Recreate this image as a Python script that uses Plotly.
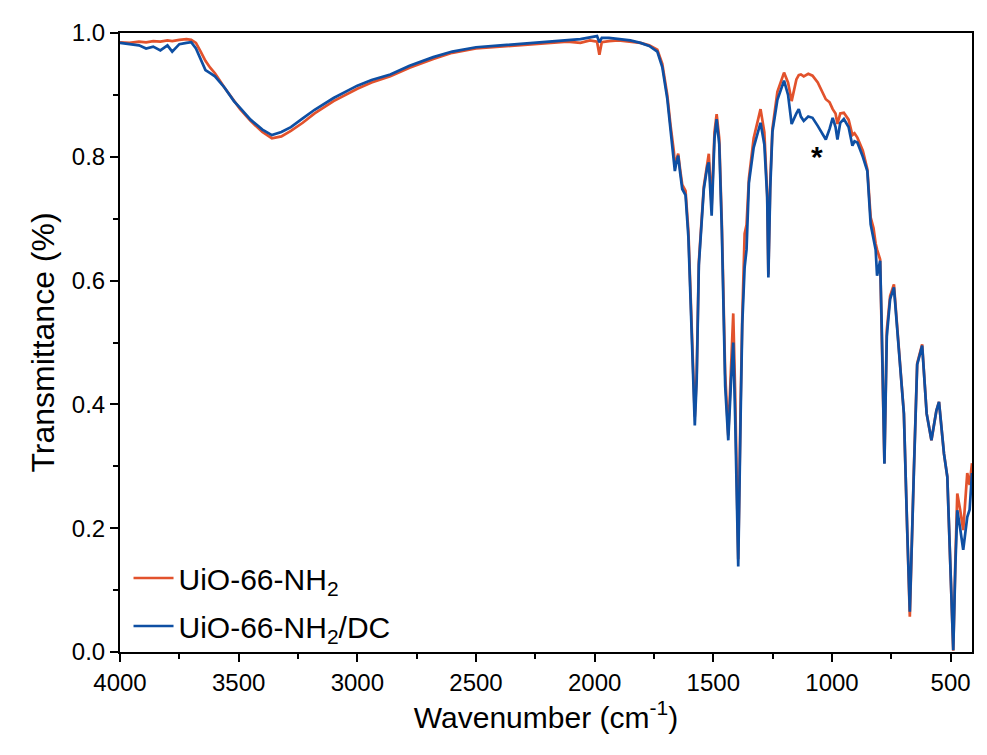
import plotly.graph_objects as go

# Wavenumber (cm^-1) sample points
wavenumber = [4000, 3960, 3920, 3890, 3860, 3830, 3800, 3780, 3750, 3720, 3700, 3680, 3660, 3640, 3620, 3600,
              3560, 3520, 3494, 3450, 3400, 3360, 3320, 3280, 3230, 3180, 3100, 3000, 2940, 2861, 2780, 2680,
              2600, 2500, 2397, 2300, 2200, 2115, 2060, 2020, 1990, 1980, 1970, 1940, 1900, 1850, 1807, 1770,
              1736, 1715, 1694, 1680, 1666, 1662, 1655, 1648, 1640, 1631, 1617, 1605, 1596, 1585, 1578, 1570,
              1561, 1540, 1525, 1519, 1507, 1495, 1486, 1475, 1464, 1450, 1437, 1425, 1416, 1408, 1395, 1385,
              1378, 1368, 1360, 1350, 1330, 1301, 1285, 1273, 1268, 1260, 1251, 1230, 1202, 1185, 1170, 1150,
              1140, 1131, 1119, 1100, 1082, 1060, 1034, 1026, 1010, 997, 985, 977, 965, 950, 930, 914,
              905, 893, 870, 851, 837, 825, 816, 810, 797, 790, 779, 769, 755, 739, 718, 697,
              683, 672, 655, 641, 620, 601, 581, 560, 549, 528, 514, 500, 489, 480, 472, 460,
              447, 430, 420, 410]

uio66_nh2 = [0.985, 0.984, 0.986, 0.985, 0.987, 0.986, 0.988, 0.987, 0.989, 0.990, 0.989, 0.984, 0.970, 0.955, 0.944, 0.935,
             0.912, 0.890, 0.877, 0.858, 0.840, 0.830, 0.833, 0.842, 0.855, 0.870, 0.890, 0.910, 0.920, 0.930, 0.944, 0.958,
             0.968, 0.975, 0.978, 0.980, 0.983, 0.986, 0.984, 0.988, 0.986, 0.965, 0.985, 0.987, 0.988, 0.986, 0.984, 0.980,
             0.973, 0.950, 0.900, 0.850, 0.808, 0.785, 0.795, 0.805, 0.780, 0.755, 0.745, 0.680, 0.580, 0.440, 0.380, 0.450,
             0.630, 0.752, 0.795, 0.805, 0.720, 0.840, 0.869, 0.830, 0.690, 0.450, 0.350, 0.470, 0.547, 0.420, 0.150, 0.400,
             0.540, 0.676, 0.690, 0.765, 0.830, 0.877, 0.840, 0.740, 0.610, 0.760, 0.845, 0.905, 0.936, 0.920, 0.890, 0.925,
             0.932, 0.933, 0.930, 0.934, 0.931, 0.920, 0.898, 0.893, 0.888, 0.877, 0.870, 0.853, 0.870, 0.871, 0.860, 0.835,
             0.838, 0.831, 0.810, 0.780, 0.702, 0.685, 0.660, 0.650, 0.634, 0.520, 0.305, 0.520, 0.575, 0.594, 0.492, 0.385,
             0.197, 0.057, 0.294, 0.466, 0.497, 0.385, 0.342, 0.390, 0.404, 0.320, 0.283, 0.116, 0.002, 0.150, 0.256, 0.230,
             0.197, 0.289, 0.270, 0.305]

uio66_nh2_dc = [0.984, 0.982, 0.980, 0.975, 0.978, 0.972, 0.980, 0.970, 0.982, 0.984, 0.985, 0.975, 0.958, 0.940, 0.935, 0.930,
                0.912, 0.890, 0.879, 0.860, 0.844, 0.835, 0.840, 0.848, 0.862, 0.876, 0.895, 0.915, 0.924, 0.933, 0.947, 0.961,
                0.970, 0.977, 0.980, 0.983, 0.986, 0.988, 0.990, 0.993, 0.995, 0.985, 0.992, 0.992, 0.990, 0.988, 0.984, 0.979,
                0.970, 0.945, 0.894, 0.845, 0.802, 0.777, 0.792, 0.802, 0.775, 0.748, 0.738, 0.670, 0.570, 0.420, 0.366, 0.440,
                0.625, 0.748, 0.785, 0.791, 0.705, 0.830, 0.861, 0.820, 0.680, 0.430, 0.342, 0.440, 0.500, 0.380, 0.138, 0.380,
                0.530, 0.622, 0.650, 0.758, 0.815, 0.855, 0.820, 0.735, 0.605, 0.750, 0.840, 0.892, 0.923, 0.900, 0.853, 0.870,
                0.877, 0.865, 0.858, 0.865, 0.863, 0.850, 0.832, 0.828, 0.845, 0.863, 0.848, 0.828, 0.855, 0.861, 0.848, 0.818,
                0.825, 0.823, 0.800, 0.777, 0.691, 0.670, 0.650, 0.608, 0.632, 0.520, 0.304, 0.510, 0.570, 0.589, 0.490, 0.385,
                0.197, 0.065, 0.290, 0.464, 0.495, 0.385, 0.342, 0.390, 0.404, 0.320, 0.283, 0.116, 0.003, 0.140, 0.229, 0.200,
                0.165, 0.218, 0.230, 0.289]

series_names = ["UiO-66-NH<sub>2</sub>", "UiO-66-NH<sub>2</sub>/DC"]
series_colors = ["#E2522C", "#0E4FA3"]

x_tick_vals = [4000, 3500, 3000, 2500, 2000, 1500, 1000, 500]
y_tick_vals = [0.0, 0.2, 0.4, 0.6, 0.8, 1.0]

marker_wavenumber = 1065
marker_value = 0.80

FONT = "Liberation Sans, Arial, sans-serif"

fig = go.Figure()
for i, (name, ys, col) in enumerate(zip(series_names, [uio66_nh2, uio66_nh2_dc], series_colors)):
    fig.add_trace(go.Scatter(x=wavenumber, y=ys, mode="lines", name=name, legendgroup=f"g{i}",
                             line=dict(color=col, width=2.7)))

fig.add_annotation(x=marker_wavenumber, y=marker_value, text="<b>*</b>", showarrow=False,
                   font=dict(family=FONT, size=30, color="black"), xanchor="center", yanchor="middle")

axis_common = dict(showline=True, linecolor="black", linewidth=2, mirror=True,
                   ticks="outside", ticklen=8, tickwidth=1.5, tickcolor="black",
                   showgrid=False, zeroline=False,
                   tickfont=dict(family=FONT, size=24, color="black"))

fig.update_xaxes(range=[4000, 410], tickvals=x_tick_vals,
                 title=dict(text="Wavenumber (cm<sup>-1</sup>)", font=dict(family=FONT, size=30, color="black"),
                            standoff=12),
                 minor=dict(ticks="outside", ticklen=5, tickwidth=1.5, tickcolor="black", dtick=250, tick0=0),
                 **axis_common)
fig.update_yaxes(range=[0, 1.0], tickvals=y_tick_vals, tickformat=".1f",
                 title=dict(text="Transmittance (%)", font=dict(family=FONT, size=32, color="black"),
                            standoff=8),
                 minor=dict(ticks="outside", ticklen=5, tickwidth=1.5, tickcolor="black", dtick=0.1, tick0=0),
                 **axis_common)

fig.update_layout(
    width=987, height=755,
    margin=dict(l=120, r=15, t=33, b=103),
    paper_bgcolor="white", plot_bgcolor="white",
    showlegend=True,
    legend=dict(x=0.01, y=0.0, xanchor="left", yanchor="bottom",
                bgcolor="rgba(0,0,0,0)", font=dict(family=FONT, size=30, color="black"),
                itemwidth=40, tracegroupgap=6),
)

fig.write_html("out.html")
